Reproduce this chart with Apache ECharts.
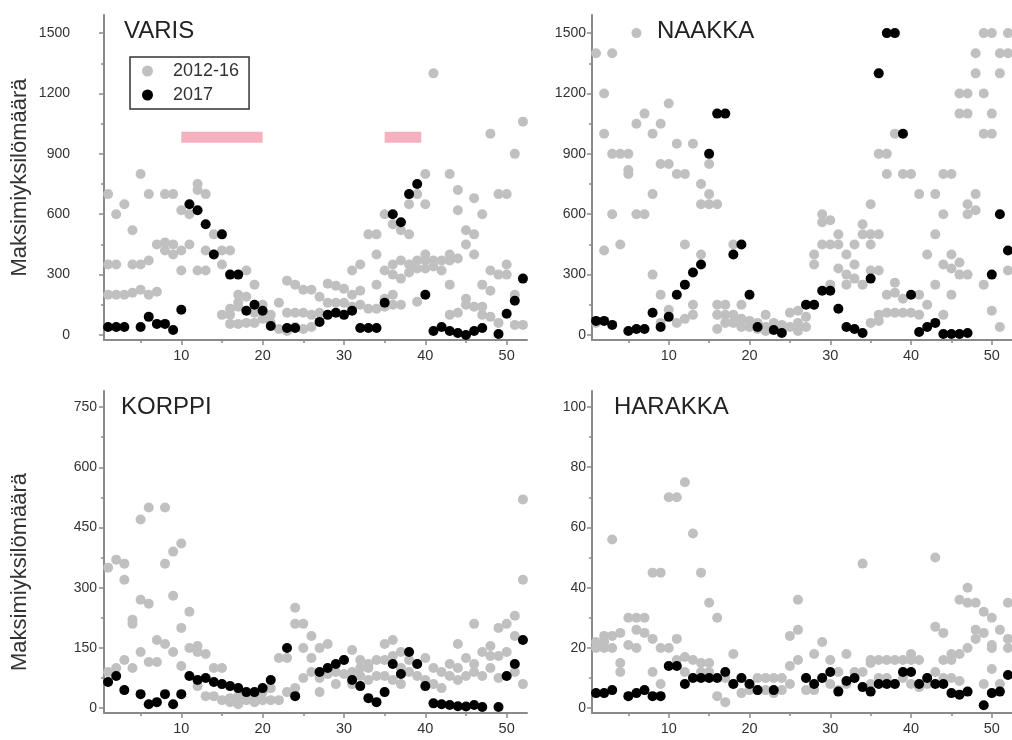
<!DOCTYPE html>
<html><head><meta charset="utf-8">
<script src="https://cdn.jsdelivr.net/npm/echarts@6/dist/echarts.min.js"></script>
<style>html,body{margin:0;padding:0;background:#fff}#c{width:1012px;height:740px}</style>
</head><body><div id="c"></div>
<script>
// ---- data ----
const weeks = [1,2,3,4,5,6,7,8,9,10,11,12,13,14,15,16,17,18,19,20,21,22,23,24,25,26,27,28,29,30,31,32,33,34,35,36,37,38,39,40,41,42,43,44,45,46,47,48,49,50,51,52];
const species = ['VARIS','NAAKKA','KORPPI','HARAKKA'];
const seriesNames = ['2012-16','2017'];

const varis2017 = [40,40,40,null,40,90,55,55,25,125,650,620,550,400,500,300,300,120,150,120,45,null,35,35,null,null,65,100,110,100,120,35,35,35,160,600,560,700,750,200,20,40,20,10,0,20,35,null,5,105,170,280];
const naakka2017 = [70,70,50,null,20,30,30,110,40,90,200,250,310,350,900,1100,1100,400,450,200,40,null,25,10,null,null,150,150,220,220,130,40,30,10,280,1300,1500,1500,1000,200,15,40,60,5,5,5,10,null,null,300,600,420];
const korppi2017 = [65,80,45,null,35,10,15,35,10,35,80,70,75,65,60,55,50,40,40,50,70,null,150,30,null,null,90,100,110,120,70,55,25,15,40,110,85,140,110,55,12,10,8,5,4,8,3,null,3,80,110,170];
const harakka2017 = [5,5,6,null,4,5,6,4,4,14,14,8,10,10,10,10,12,8,10,8,6,null,6,null,null,null,10,8,10,12,5.5,9,10,7,5.5,8,8,8,12,12,8,10,8,8,5,4.5,5.5,null,1,5,5.5,11];

const varisPast = [[1,700],[1,350],[1,200],[2,600],[2,350],[2,200],[3,650],[3,200],[4,520],[4,350],[4,210],[5,800],[5,350],[5,225],[6,700],[6,370],[6,200],[7,450],[7,215],[8,700],[8,460],[8,420],[9,700],[9,450],[9,400],[10,620],[10,420],[10,320],[11,600],[11,450],[12,750],[12,720],[12,320],[13,700],[13,420],[13,320],[14,500],[15,420],[15,350],[15,100],[16,420],[16,130],[16,100],[16,55],[17,200],[17,160],[17,140],[17,55],[18,320],[18,190],[18,60],[19,250],[19,110],[19,60],[20,150],[20,80],[21,100],[21,60],[22,160],[22,30],[23,270],[23,110],[23,20],[24,250],[24,110],[24,40],[25,225],[25,110],[25,30],[26,225],[26,100],[26,40],[27,190],[27,110],[28,255],[28,160],[29,245],[29,160],[30,230],[30,160],[31,320],[31,200],[31,140],[32,350],[32,220],[32,150],[33,500],[33,130],[34,500],[34,400],[34,250],[34,130],[35,600],[35,320],[35,180],[35,140],[36,550],[36,350],[36,300],[36,200],[36,150],[37,520],[37,370],[37,280],[37,150],[38,650],[38,500],[38,350],[38,310],[39,700],[39,370],[39,330],[39,165],[40,800],[40,650],[40,400],[40,370],[40,330],[41,1300],[41,370],[41,340],[42,370],[42,320],[43,800],[43,400],[43,370],[43,250],[43,100],[44,720],[44,620],[44,380],[44,110],[45,520],[45,450],[45,180],[45,150],[46,680],[46,500],[46,400],[46,140],[47,600],[47,250],[47,140],[47,100],[48,1000],[48,320],[48,220],[48,90],[49,700],[49,300],[49,60],[50,700],[50,350],[50,300],[51,900],[51,200],[51,50],[52,1060],[52,50]];
const naakkaPast = [[1,1400],[1,60],[2,1200],[2,1000],[2,420],[3,1400],[3,900],[3,600],[4,900],[4,450],[5,900],[5,820],[5,800],[6,1500],[6,1050],[6,600],[7,1100],[7,600],[8,1000],[8,700],[8,300],[9,1050],[9,850],[9,200],[9,60],[10,1150],[10,850],[10,125],[11,950],[11,800],[11,60],[12,800],[12,450],[12,80],[13,950],[13,150],[13,100],[14,750],[14,650],[14,400],[15,850],[15,700],[15,650],[16,650],[16,150],[16,100],[16,30],[17,150],[17,100],[17,60],[18,450],[18,100],[18,60],[19,150],[19,80],[19,40],[20,70],[20,40],[21,60],[21,30],[22,100],[22,40],[22,20],[23,60],[23,30],[24,50],[24,20],[25,110],[25,40],[26,120],[26,60],[26,20],[27,90],[27,40],[28,400],[28,350],[28,150],[29,600],[29,560],[29,450],[30,570],[30,450],[30,250],[31,500],[31,450],[31,330],[32,400],[32,300],[32,250],[33,450],[33,350],[33,280],[34,550],[34,500],[34,250],[35,650],[35,500],[35,450],[35,320],[35,60],[36,900],[36,500],[36,320],[36,100],[36,70],[37,900],[37,800],[37,200],[37,110],[38,1000],[38,260],[38,210],[38,110],[39,800],[39,180],[39,110],[40,800],[40,110],[41,700],[41,200],[41,100],[42,400],[42,150],[43,700],[43,500],[43,250],[44,800],[44,600],[44,350],[44,100],[45,800],[45,400],[45,330],[45,200],[46,1200],[46,1100],[46,360],[46,300],[47,1200],[47,1100],[47,650],[47,600],[47,300],[48,1400],[48,1300],[48,700],[48,620],[49,1500],[49,1200],[49,1000],[49,250],[50,1500],[50,1100],[50,1000],[50,120],[51,1400],[51,1300],[51,40],[52,1500],[52,1400],[52,320]];
const korppiPast = [[1,350],[1,90],[2,370],[2,100],[3,360],[3,320],[3,120],[4,220],[4,210],[4,100],[5,470],[5,270],[5,140],[6,500],[6,260],[6,115],[7,170],[7,115],[8,500],[8,360],[8,160],[9,390],[9,280],[9,140],[10,410],[10,200],[10,105],[11,240],[11,150],[12,155],[12,140],[12,55],[13,135],[13,30],[14,100],[14,30],[15,100],[15,20],[16,25],[16,15],[17,30],[17,10],[18,30],[18,20],[19,25],[19,15],[20,40],[20,20],[21,50],[21,20],[22,125],[22,20],[23,125],[23,40],[24,250],[24,210],[24,50],[25,210],[25,150],[25,75],[26,180],[26,125],[26,90],[27,150],[27,75],[27,40],[28,160],[28,85],[29,90],[29,60],[30,120],[30,85],[31,145],[31,90],[31,60],[32,120],[32,100],[32,80],[33,110],[33,100],[33,70],[34,120],[34,80],[35,160],[35,120],[35,80],[36,170],[36,130],[36,70],[37,140],[37,100],[37,60],[38,120],[38,90],[39,110],[39,80],[40,125],[40,70],[41,100],[41,60],[42,90],[42,50],[43,110],[43,80],[44,160],[44,100],[44,70],[45,125],[45,80],[46,210],[46,110],[46,90],[47,140],[47,80],[48,155],[48,130],[48,100],[49,200],[49,130],[49,75],[50,210],[50,140],[51,230],[51,180],[51,90],[52,520],[52,320],[52,60]];
const harakkaPast = [[1,22],[1,20],[2,24],[2,22],[2,20],[3,56],[3,24],[3,20],[4,25],[4,15],[4,12],[5,30],[5,21],[6,30],[6,26],[6,20],[7,30],[7,25],[8,45],[8,23],[8,12],[9,45],[9,20],[9,8],[10,70],[10,20],[11,70],[11,23],[11,16],[12,75],[12,17],[12,12],[13,58],[13,16],[14,45],[14,15],[14,12],[15,35],[15,15],[15,12],[16,30],[16,4],[17,10],[17,2],[18,18],[18,8],[19,10],[19,5],[20,8],[20,6],[21,10],[21,6],[22,10],[22,6],[23,10],[23,5],[24,10],[24,6],[25,24],[25,14],[25,8],[26,36],[26,26],[26,16],[27,10],[27,6],[28,18],[28,6],[29,22],[29,10],[30,16],[30,8],[31,12],[31,6],[32,18],[32,8],[33,12],[33,10],[34,48],[34,12],[35,16],[35,15],[35,8],[36,16],[36,10],[37,16],[37,10],[38,16],[38,8],[39,16],[39,10],[40,18],[40,16],[40,8],[41,16],[41,7],[42,10],[42,8],[43,50],[43,27],[43,12],[44,25],[44,16],[44,10],[45,18],[45,16],[45,10],[46,36],[46,18],[46,9],[47,40],[47,35],[47,20],[48,35],[48,26],[48,23],[49,32],[49,25],[49,8],[50,30],[50,21],[50,20],[50,13],[51,26],[51,8],[52,35],[52,23],[52,20]];

// pink period bars (weeks) in the VARIS panel and their value band
const periods = [[10,20],[35,39.5]];
const periodBand = [955,1010];

// tick labels
const xMajor = [10,20,30,40,50];
const xMinor = [5,15,25,35,45];
const yMajorBig = [0,300,600,900,1200,1500];
const yMinorBig = [150,450,750,1050,1350];
const yMajorKorppi = [0,150,300,450,600,750];
const yMinorKorppi = [75,225,375,525,675];
const yMajorHarakka = [0,20,40,60,80,100];
const yMinorHarakka = [10,30,50,70,90];

// ---- chart ----
const FONT = '"Liberation Sans", Arial, sans-serif';
const AX = '#8a8a8a';
const GRAY = '#c0c0c0';
const grids = [
  {left:104, top:15, width:423, height:325},
  {left:592, top:15, width:423, height:325},
  {left:104, top:391, width:423, height:322},
  {left:592, top:391, width:423, height:322}
];
const yRanges = [[-25,1590],[-25,1590],[-12,790],[-1.6,105.3]];
const yMaj = [yMajorBig, yMajorBig, yMajorKorppi, yMajorHarakka];
const yMin = [yMinorBig, yMinorBig, yMinorKorppi, yMinorHarakka];
const yLabelMargin = [34, 6, 7, 6];
const namePad = [[0,0,0,0],[0,0,0,0],[0,40,0,0],[0,0,0,0]];
const plain = v => String(v);

const xAxis = [], yAxis = [];
grids.forEach((g, gi) => {
  xAxis.push({gridIndex:gi, type:'value', min:0.5, max:52.5, position:'bottom',
    splitLine:{show:false},
    axisLine:{show:true, onZero:false, lineStyle:{color:AX, width:2}},
    axisTick:{show:true, customValues:xMajor, length:5, lineStyle:{color:AX, width:1.5}},
    axisLabel:{customValues:xMajor, formatter:plain, color:'#333', fontSize:14.5, margin:8, fontFamily:FONT}});
  xAxis.push({gridIndex:gi, type:'value', min:0.5, max:52.5, position:'bottom',
    splitLine:{show:false}, axisLine:{show:false, onZero:false},
    axisTick:{show:true, customValues:xMinor, length:3, lineStyle:{color:AX, width:1.5}},
    axisLabel:{show:false}});
  const left = (gi % 2 === 0);
  yAxis.push({gridIndex:gi, type:'value', min:yRanges[gi][0], max:yRanges[gi][1], position:'left',
    splitLine:{show:false},
    name: left ? 'Maksimiyksilömäärä' : '', nameLocation:'middle', nameGap:73,
    nameTextStyle:{color:'#333', fontSize:22, fontFamily:FONT, padding:namePad[gi]},
    axisLine:{show:true, onZero:false, lineStyle:{color:AX, width:2}},
    axisTick:{show:true, customValues:yMaj[gi], length:5, lineStyle:{color:AX, width:1.5}},
    axisLabel:{customValues:yMaj[gi], formatter:plain, color:'#333', fontSize:14, margin:yLabelMargin[gi], fontFamily:FONT}});
  yAxis.push({gridIndex:gi, type:'value', min:yRanges[gi][0], max:yRanges[gi][1], position:'left',
    splitLine:{show:false}, axisLine:{show:false, onZero:false},
    axisTick:{show:true, customValues:yMin[gi], length:3, lineStyle:{color:AX, width:1.5}},
    axisLabel:{show:false}});
});

const pastData = [varisPast, naakkaPast, korppiPast, harakkaPast];
const newData = [varis2017, naakka2017, korppi2017, harakka2017];
const series = [];
species.forEach((sp, gi) => {
  const s = {name:seriesNames[0], type:'scatter', xAxisIndex:gi*2, yAxisIndex:gi*2,
    data:pastData[gi], symbolSize:10, itemStyle:{color:GRAY, opacity:1}, z:2};
  if (gi === 0) {
    s.markArea = {silent:true, itemStyle:{color:'#f5b1bf', opacity:1},
      data: periods.map(p => [{xAxis:p[0], yAxis:periodBand[0]}, {xAxis:p[1], yAxis:periodBand[1]}])};
  }
  series.push(s);
  series.push({name:seriesNames[1], type:'scatter', xAxisIndex:gi*2, yAxisIndex:gi*2,
    data: weeks.map((w,i) => [w, newData[gi][i]]).filter(d => d[1] !== null),
    symbolSize:10, itemStyle:{color:'#000', opacity:1}, z:3});
});

const titlePos = [[124,19],[657,19],[121,395],[614,395]];
const title = species.map((sp, i) => ({text:sp, left:titlePos[i][0], top:titlePos[i][1],
  textStyle:{fontSize:24, fontWeight:'normal', color:'#222', fontFamily:FONT}, padding:0}));

const chart = echarts.init(document.getElementById('c'), null, {renderer:'canvas'});
chart.setOption({
  animation:false,
  backgroundColor:'#fff',
  title,
  legend:{data:seriesNames, left:130, top:57, orient:'vertical', icon:'circle',
    itemWidth:11, itemHeight:11, itemGap:6, padding:[5,10,5,12],
    borderColor:'#333', borderWidth:1.5,
    textStyle:{fontSize:18, color:'#333', fontFamily:FONT, padding:[0,0,0,15]}},
  grid:grids, xAxis, yAxis, series
});
</script></body></html>
